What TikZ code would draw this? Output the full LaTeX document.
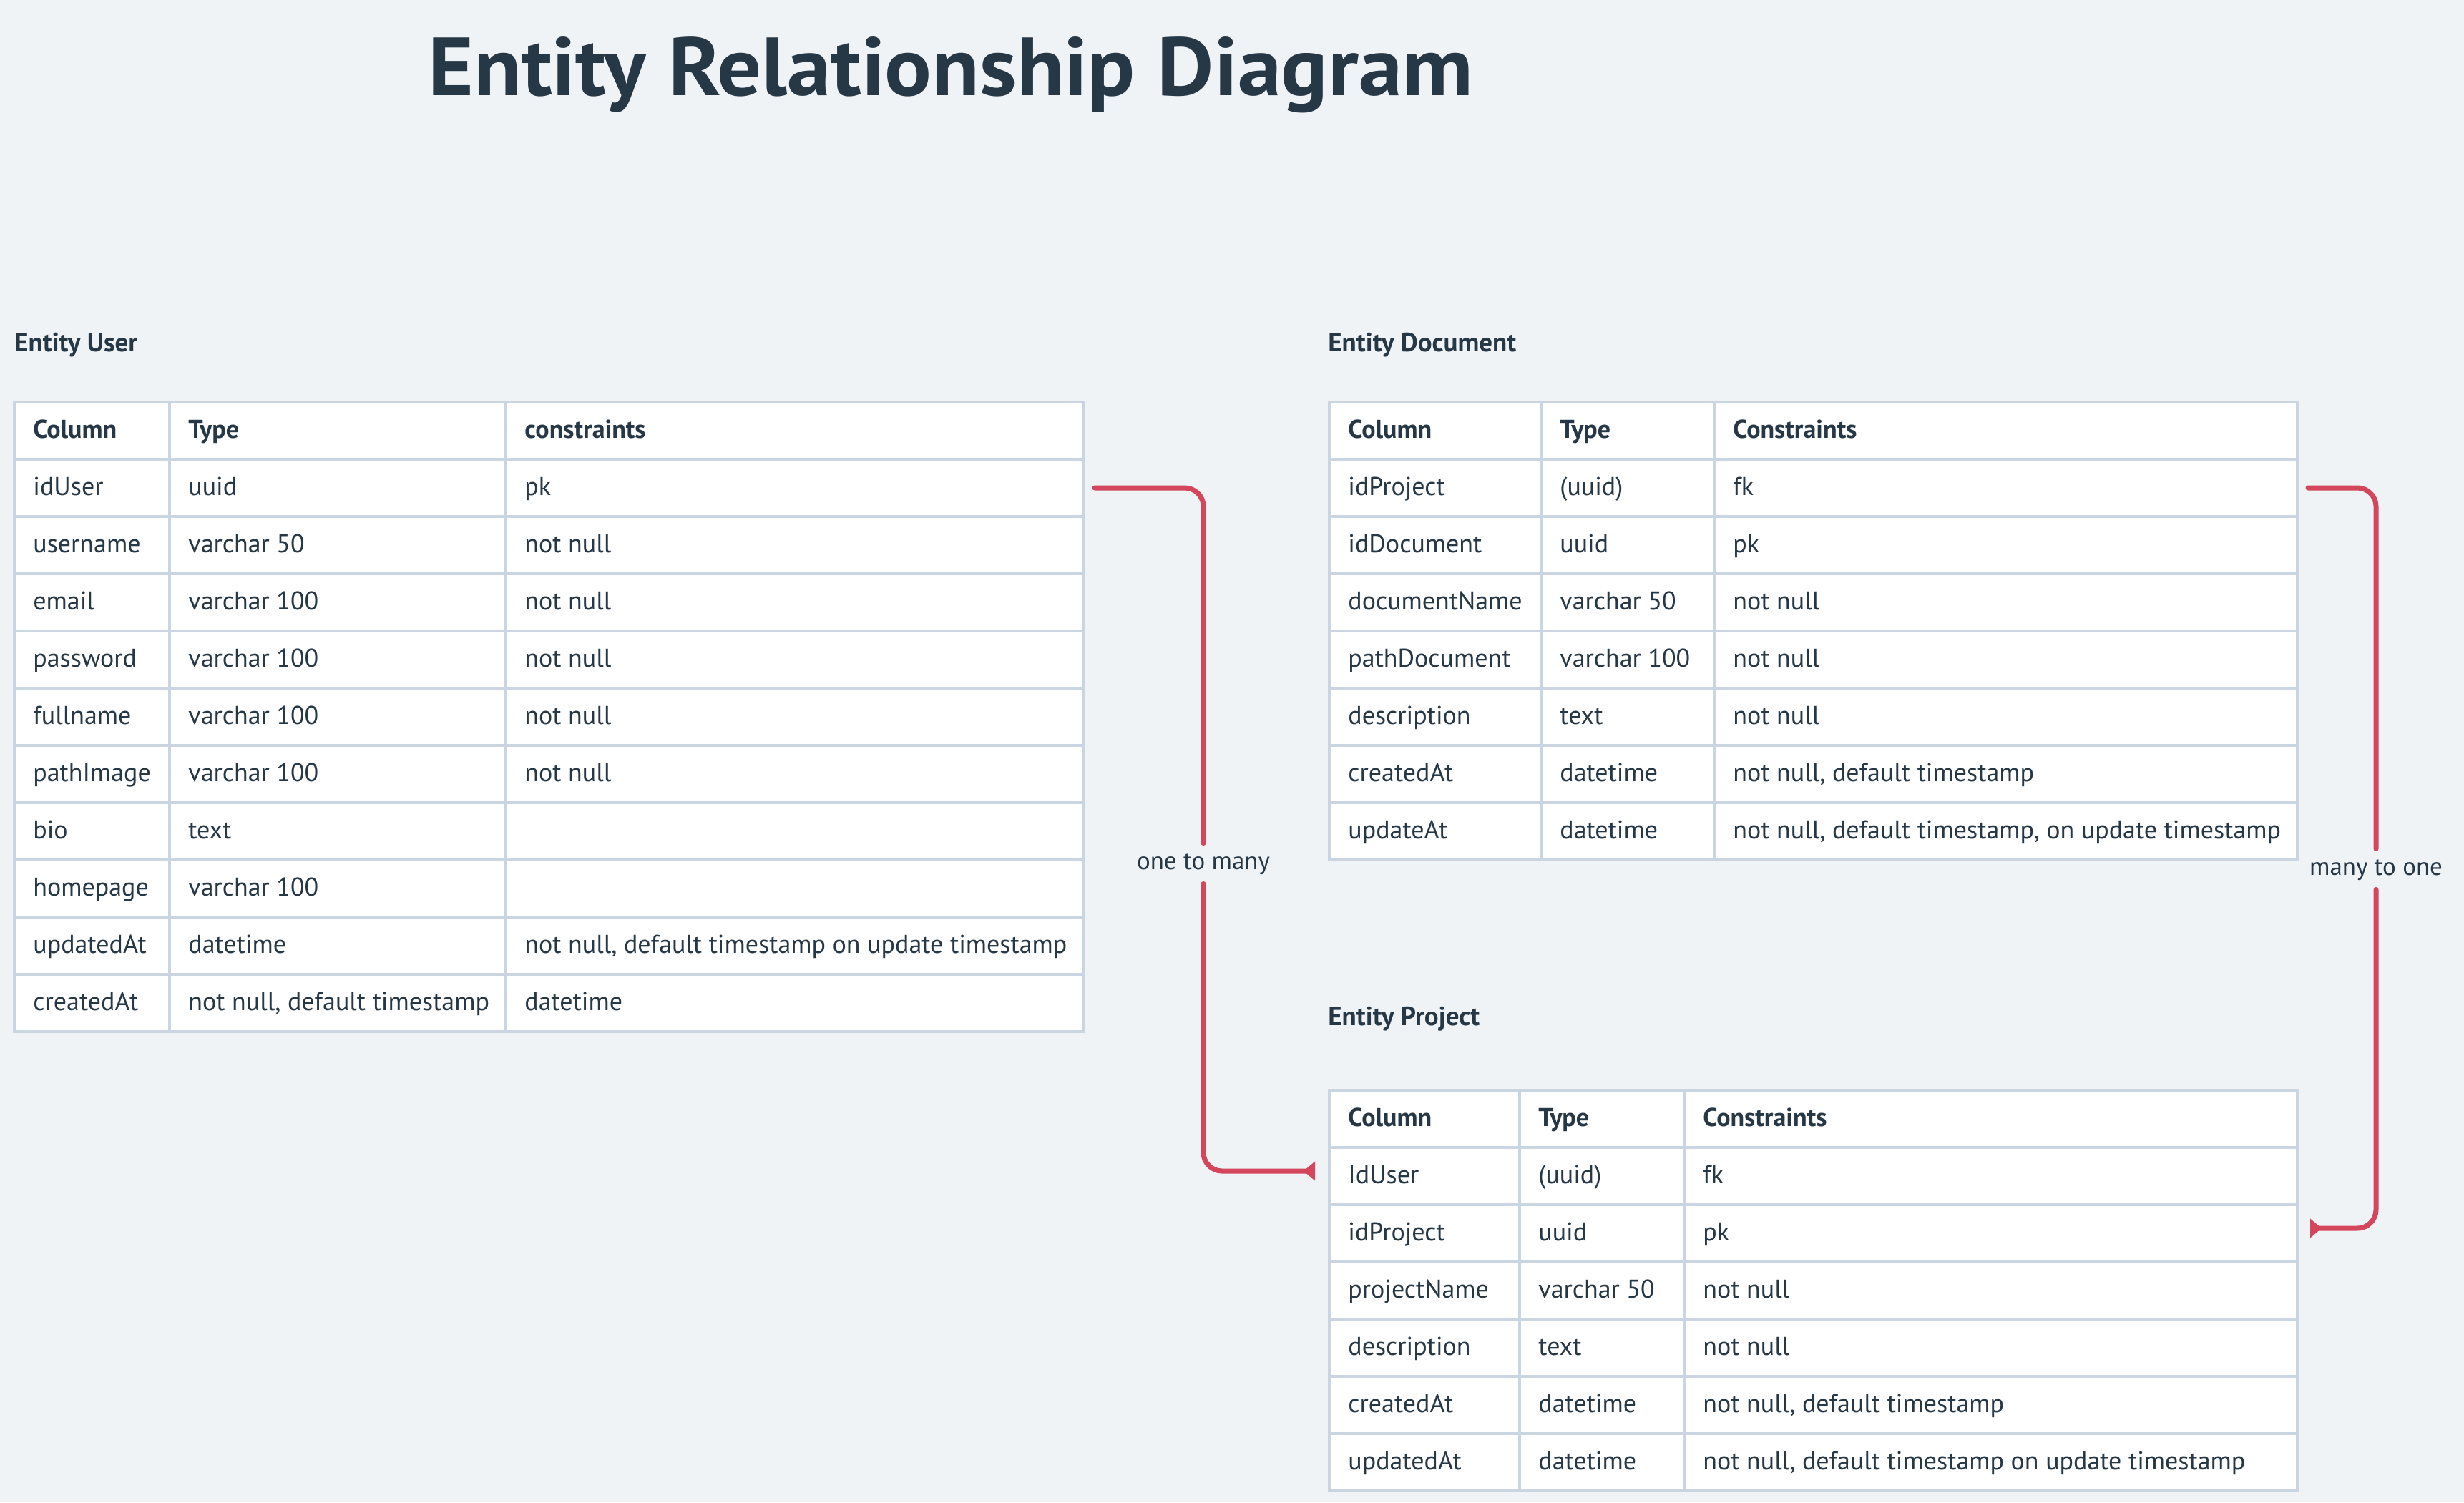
\documentclass[tikz,border=0pt]{standalone}
\usepackage{fontspec}
\setmainfont{PT Sans}
\usetikzlibrary{arrows.meta}
\definecolor{bg}{HTML}{EFF3F6}
\definecolor{ink}{HTML}{263746}
\definecolor{gridc}{HTML}{C9D5E0}
\definecolor{relc}{HTML}{D4465C}
\newcommand\setcols[6]{\def\cxa{#1}\def\cwa{#2}\def\cxb{#3}\def\cwb{#4}\def\cxc{#5}\def\cwc{#6}}
\newcommand\trow[6]{%
 \node[cell,minimum width=\cwa pt,anchor=north west] (#1a) at (\cxa pt,-#2pt) {};
 \node[ctext,#6] (#1ta) at ([xshift=14pt,yshift=-1pt]#1a.west) {#3};
 \node[cell,minimum width=\cwb pt,anchor=north west] (#1b) at (\cxb pt,-#2pt) {};
 \node[ctext,#6] (#1tb) at ([xshift=14pt,yshift=-1pt]#1b.west) {#4};
 \node[cell,minimum width=\cwc pt,anchor=north west] (#1c) at (\cxc pt,-#2pt) {};
 \node[ctext,#6] (#1tc) at ([xshift=14pt,yshift=-1pt]#1c.west) {#5};
}
\tikzset{
 cell/.style={rectangle,draw=gridc,line width=2pt,fill=white,inner sep=0pt,minimum height=40pt},
 ctext/.style={anchor=west,inner sep=0pt,text height=12.5pt,text depth=4pt,text=ink,font=\fontsize{18}{21}\selectfont},
 hdr/.style={font=\fontsize{18}{21}\selectfont\bfseries},
 entlabel/.style={anchor=west,inner sep=0pt,text height=12.5pt,text depth=4pt,text=ink,font=\fontsize{18.5}{22}\selectfont\bfseries},
 rellabel/.style={inner xsep=2pt,inner ysep=6pt,text height=12pt,text depth=4pt,text=ink,font=\fontsize{17.5}{20}\selectfont},
 relline/.style={draw=relc,line width=3.5pt,line cap=round,rounded corners=13pt},
 reltip/.style={-{Triangle[reversed,length=8pt,width=13pt]}}
}
\begin{document}
\begin{tikzpicture}
\fill[bg] (0,0) rectangle (1722pt,-1050pt);
\useasboundingbox (0,0) rectangle (1722pt,-1050pt);

\node[anchor=base west,inner sep=0pt,text=ink] (title) at (299pt,-66.5pt)
  {\resizebox{730pt}{41pt}{\bfseries Entity Relationship Diagram}};

% Entity User
\node[entlabel] (lu) at (10pt,-241.5pt) {Entity User};
\setcols{9}{108.5}{117.5}{235}{352.5}{404}
\trow{u0}{280}{Column}{Type}{constraints}{hdr}
\trow{u1}{320}{idUser}{uuid}{pk}{}
\trow{u2}{360}{username}{varchar 50}{not null}{}
\trow{u3}{400}{email}{varchar 100}{not null}{}
\trow{u4}{440}{password}{varchar 100}{not null}{}
\trow{u5}{480}{fullname}{varchar 100}{not null}{}
\trow{u6}{520}{pathImage}{varchar 100}{not null}{}
\trow{u7}{560}{bio}{text}{}{}
\trow{u8}{600}{homepage}{varchar 100}{}{}
\trow{u9}{640}{updatedAt}{datetime}{not null, default timestamp on update timestamp}{}
\trow{u10}{680}{createdAt}{not null, default timestamp}{datetime}{}

% Entity Document
\node[entlabel] (ld) at (928pt,-241.5pt) {Entity Document};
\setcols{928}{148}{1076}{121}{1197}{407.5}
\trow{d0}{280}{Column}{Type}{Constraints}{hdr}
\trow{d1}{320}{idProject}{(uuid)}{fk}{}
\trow{d2}{360}{idDocument}{uuid}{pk}{}
\trow{d3}{400}{documentName}{varchar 50}{not null}{}
\trow{d4}{440}{pathDocument}{varchar 100}{not null}{}
\trow{d5}{480}{description}{text}{not null}{}
\trow{d6}{520}{createdAt}{datetime}{not null, default timestamp}{}
\trow{d7}{560}{updateAt}{datetime}{not null, default timestamp, on update timestamp}{}

% Entity Project
\node[entlabel] (lp) at (928pt,-712.5pt) {Entity Project};
\setcols{928}{133}{1061}{115}{1176}{428.5}
\trow{p0}{761}{Column}{Type}{Constraints}{hdr}
\trow{p1}{801}{IdUser}{(uuid)}{fk}{}
\trow{p2}{841}{idProject}{uuid}{pk}{}
\trow{p3}{881}{projectName}{varchar 50}{not null}{}
\trow{p4}{921}{description}{text}{not null}{}
\trow{p5}{961}{createdAt}{datetime}{not null, default timestamp}{}
\trow{p6}{1001}{updatedAt}{datetime}{not null, default timestamp on update timestamp}{}

% relations
\node[rellabel] (r1) at (841pt,-603.5pt) {one to many};
\node[rellabel] (r2) at (1660.5pt,-607.5pt) {many to one};
\draw[relline] ([xshift=6.5pt]u1c.east) -| (r1.north);
\draw[relline,reltip] (r1.south) |- ([xshift=-9pt,yshift=3.5pt]p1a.west);
\draw[relline] ([xshift=6.5pt]d1c.east) -| (r2.north);
\draw[relline,reltip] (r2.south) |- ([xshift=8pt,yshift=3.5pt]p2c.east);
\end{tikzpicture}
\end{document}
